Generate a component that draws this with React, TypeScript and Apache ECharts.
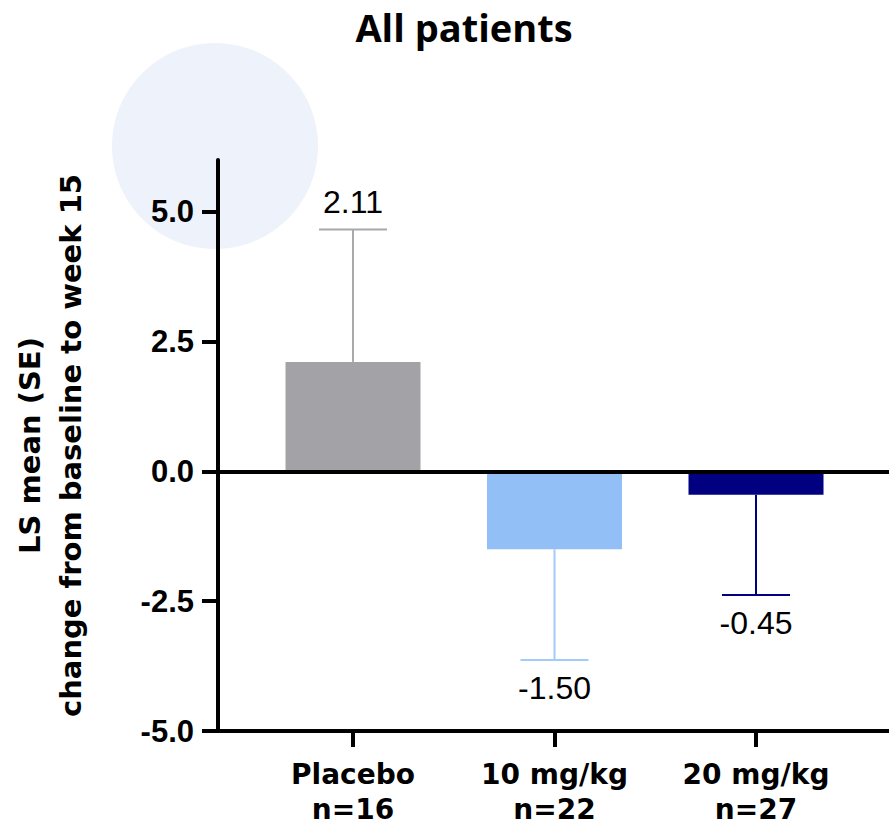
import React, { useEffect, useRef } from "react";
import * as echarts from "echarts";

const titleText = "All patients";
const yAxisTitle = "LS mean (SE)\nchange from baseline to week 15";
const categories = ["Placebo", "10 mg/kg", "20 mg/kg"];
const sampleSizes = ["n=16", "n=22", "n=27"];
const lsMeans = [2.11, -1.5, -0.45];
const standardErrors = [2.55, 2.13, 1.93];
const yTickValues = [-5, -2.5, 0, 2.5, 5];
const categoryPositions = [0, 1, 2];
const barColors = ["#a3a2a7", "#93bff7", "#000080"];
const errorColors = ["#a8a8ad", "#a3cbf9", "#000080"];

export default function App() {
  const ref = useRef<HTMLDivElement>(null);

  useEffect(() => {
    if (!ref.current) return;
    const chart = echarts.init(ref.current, null, { renderer: "svg" });

    const barData = categoryPositions.map((x, i) => ({
      value: [x, lsMeans[i]],
      itemStyle: { color: barColors[i] },
    }));
    const errData = categoryPositions.map((x, i) => [x, lsMeans[i], standardErrors[i], i]);

    const option: any = {
      animation: false,
      backgroundColor: "#ffffff",
      title: {
        text: titleText,
        left: 459,
        top: 4,
        textAlign: "center",
        textStyle: {
          fontFamily: "Open Sans",
          fontWeight: "bold",
          fontSize: 38,
          lineHeight: 36,
          color: "#000",
        },
      },
      graphic: [
        {
          type: "circle",
          z: -10,
          silent: true,
          shape: { cx: 215, cy: 146, r: 103 },
          style: { fill: "#eef2fa" },
        },
      ],
      grid: { left: 218, right: 0, top: 160, bottom: 96, containLabel: false },
      xAxis: {
        type: "value",
        min: -0.67,
        max: 2.66,
        splitLine: { show: false },
        axisLine: { show: true, onZero: false, lineStyle: { color: "#000", width: 4 } },
        axisTick: {
          show: true,
          customValues: categoryPositions,
          length: 16,
          lineStyle: { color: "#000", width: 4 },
        },
        axisLabel: {
          customValues: categoryPositions,
          margin: 26,
          formatter: (v: number) => {
            const i = Math.round(v);
            return categories[i] + "\n" + sampleSizes[i];
          },
          fontFamily: "DejaVu Sans",
          fontWeight: "bold",
          fontSize: 28,
          lineHeight: 35,
          color: "#000",
        },
      },
      yAxis: {
        type: "value",
        min: -5,
        max: 6,
        name: yAxisTitle,
        nameLocation: "middle",
        nameGap: 127,
        nameTextStyle: {
          fontFamily: "DejaVu Sans",
          fontWeight: "bold",
          fontSize: 29,
          lineHeight: 41,
          color: "#000",
          align: "center",
        },
        splitLine: { show: false },
        axisLine: { show: true, onZero: false, lineStyle: { color: "#000", width: 4 } },
        axisTick: {
          show: true,
          customValues: yTickValues,
          length: 16,
          lineStyle: { color: "#000", width: 4 },
        },
        axisLabel: {
          customValues: yTickValues,
          margin: 24,
          formatter: (v: number) => v.toFixed(1),
          fontFamily: "Liberation Sans",
          fontWeight: "bold",
          fontSize: 31,
          color: "#000",
        },
      },
      series: [
        {
          type: "bar",
          data: barData,
          barWidth: 135,
          z: 2,
          markLine: {
            silent: true,
            symbol: "none",
            label: { show: false },
            lineStyle: { color: "#000", width: 4, type: "solid" },
            data: [{ yAxis: 0 }],
          },
        },
        {
          type: "custom",
          z: 3,
          data: errData,
          renderItem: (params: any, api: any) => {
            const x = api.value(0);
            const mean = api.value(1);
            const se = api.value(2);
            const idx = api.value(3);
            const sign = mean >= 0 ? 1 : -1;
            const p0 = api.coord([x, mean]);
            const p1 = api.coord([x, mean + sign * se]);
            const color = errorColors[idx];
            const half = 34;
            return {
              type: "group",
              children: [
                {
                  type: "line",
                  shape: { x1: p0[0], y1: p0[1], x2: p1[0], y2: p1[1] },
                  style: { stroke: color, lineWidth: 2 },
                },
                {
                  type: "line",
                  shape: { x1: p1[0] - half, y1: p1[1], x2: p1[0] + half, y2: p1[1] },
                  style: { stroke: color, lineWidth: 2 },
                },
                {
                  type: "text",
                  x: p1[0],
                  y: p1[1] - sign * 28,
                  style: {
                    text: lsMeans[idx].toFixed(2),
                    fontFamily: "Liberation Sans",
                    fontSize: 32,
                    fill: "#000",
                    align: "center",
                    verticalAlign: "middle",
                  },
                },
              ],
            };
          },
        },
      ],
    };

    chart.setOption(option);
    return () => chart.dispose();
  }, []);

  return (
    <div
      ref={ref}
      style={{ position: "fixed", left: 0, top: 0, width: 889, height: 827, background: "#fff" }}
    />
  );
}
